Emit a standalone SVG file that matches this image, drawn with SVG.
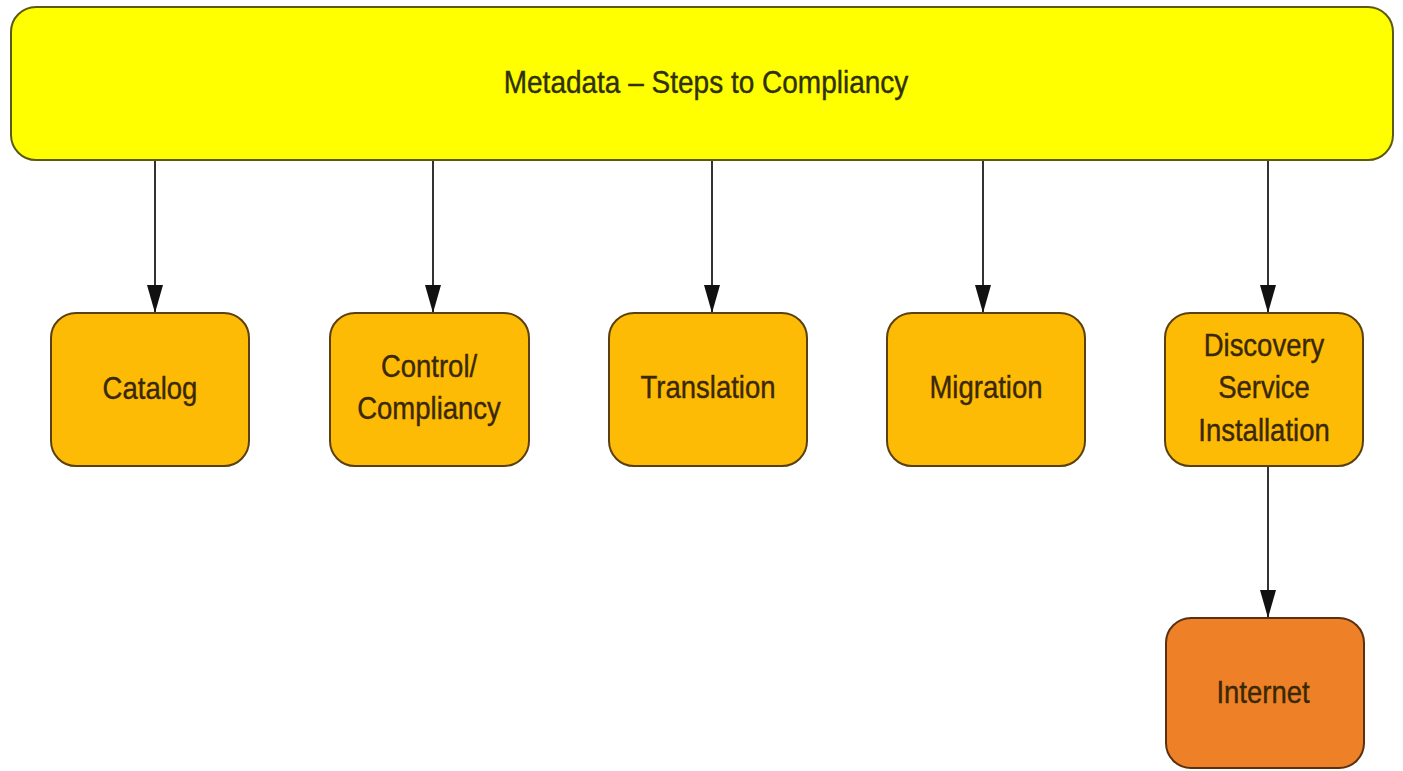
<svg xmlns="http://www.w3.org/2000/svg" width="1403" height="771" viewBox="0 0 1403 771">
<defs>
<style>
.bg{fill:#ffffff}
.top{fill:#ffff00;stroke:#5c5a10;stroke-width:2}
.box{fill:#fdbb06;stroke:#5a4010;stroke-width:2}
.net{fill:#ee8128;stroke:#5a3010;stroke-width:2}
.lbl{font-family:"Liberation Sans",Arial,sans-serif;font-size:27.5px;fill:#3a2804;stroke:#3a2804;stroke-width:0.35;text-anchor:middle}
.title{font-family:"Liberation Sans",Arial,sans-serif;font-size:28px;fill:#30300a;stroke:#30300a;stroke-width:0.35;text-anchor:middle}
.edge{stroke:#333333;stroke-width:2;fill:none;marker-end:url(#arr)}
</style>
<marker id="arr" markerUnits="userSpaceOnUse" markerWidth="28" markerHeight="16" refX="28" refY="8" orient="auto">
<path d="M0,0 L28,8 L0,16 z" fill="#111111"/>
</marker>
</defs>
<rect class="bg" x="0" y="0" width="1403" height="771"/>
<g id="connectors">
<line class="edge" x1="155" y1="160" x2="155" y2="313"/>
<line class="edge" x1="433" y1="160" x2="433" y2="313"/>
<line class="edge" x1="712" y1="160" x2="712" y2="313"/>
<line class="edge" x1="983" y1="160" x2="983" y2="313"/>
<line class="edge" x1="1268" y1="160" x2="1268" y2="313"/>
<line class="edge" x1="1268" y1="466" x2="1268" y2="618"/>
</g>
<g id="metadata">
<rect class="top" x="11" y="7" width="1382" height="153" rx="25"/>
<text class="title" transform="translate(706,93) scale(1,1.12)">Metadata – Steps to Compliancy</text>
</g>
<g id="catalog">
<rect class="box" x="51" y="313" width="198" height="153" rx="25"/>
<text class="lbl" transform="translate(150,399) scale(1,1.15)">Catalog</text>
</g>
<g id="control">
<rect class="box" x="330" y="313" width="199" height="153" rx="25"/>
<text class="lbl" transform="translate(429,377) scale(1,1.15)">Control/</text>
<text class="lbl" transform="translate(429,419) scale(1,1.15)">Compliancy</text>
</g>
<g id="translation">
<rect class="box" x="609" y="313" width="198" height="153" rx="25"/>
<text class="lbl" transform="translate(708,398) scale(1,1.15)">Translation</text>
</g>
<g id="migration">
<rect class="box" x="887" y="313" width="198" height="153" rx="25"/>
<text class="lbl" transform="translate(986,398) scale(1,1.15)">Migration</text>
</g>
<g id="discovery">
<rect class="box" x="1165" y="313" width="198" height="153" rx="25"/>
<text class="lbl" transform="translate(1264,356) scale(1,1.15)">Discovery</text>
<text class="lbl" transform="translate(1264,398) scale(1,1.15)">Service</text>
<text class="lbl" transform="translate(1264,441) scale(1,1.15)">Installation</text>
</g>
<g id="internet">
<rect class="net" x="1166" y="618" width="198" height="150" rx="25"/>
<text class="lbl" transform="translate(1263,703) scale(1,1.15)">Internet</text>
</g>
</svg>
